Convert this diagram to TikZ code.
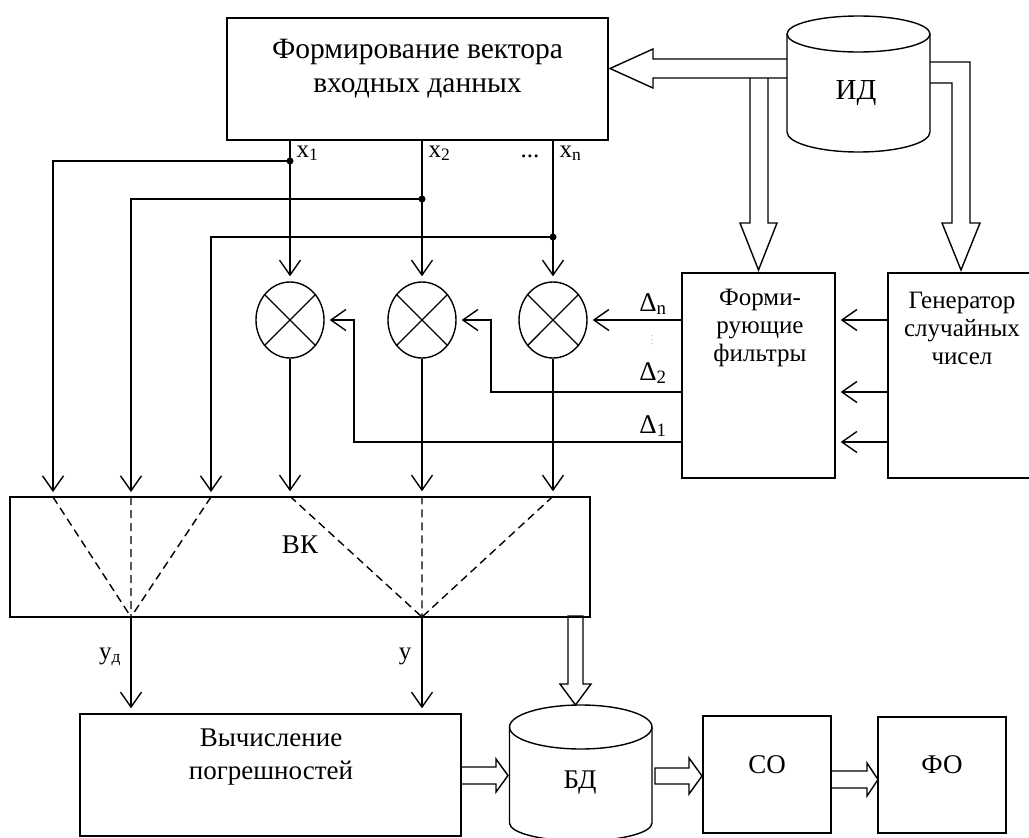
\documentclass[tikz,border=0pt]{standalone}
\usepackage{fontspec}
\setmainfont{Liberation Serif}
\usepackage{tikz}
\usetikzlibrary{calc,shapes,positioning}
\usetikzlibrary{arrows.meta}
\tikzset{>={Straight Barb[width=21pt,length=15pt]}}

\begin{document}
\begin{tikzpicture}[x=1pt,y=-1pt,line width=1.4pt,line join=miter]
          \tikzstyle{blk} = [draw, rectangle, inner sep=0pt]
          \tikzstyle{mul} = [draw, ellipse, inner sep=0pt, minimum width=68pt, minimum height=76pt]
          \tikzstyle{txt} = [align=center, inner sep=0pt, font=\fontsize{27}{33}\selectfont]
          \tikzstyle{btxt} = [align=center, inner sep=0pt, font=\fontsize{29.5}{34}\selectfont]
          \tikzstyle{stxt} = [align=center, inner sep=0pt, font=\fontsize{25}{28}\selectfont]
          \tikzstyle{lbl} = [inner sep=0pt, anchor=base, font=\fontsize{25}{25}\selectfont]
          \tikzstyle{sig} = [->, shorten >=5pt]
          \tikzstyle{route} = [dash pattern=on 8pt off 5pt]
          \useasboundingbox (0,0) rectangle (1029,838);

            % blocks
            \node[blk, minimum width=381pt, minimum height=122pt] (fv) at (417.5,79) {};
            \node[btxt] (fvt) at (417.5,69) {Формирование вектора\\входных данных};
            \node[blk, minimum width=153pt, minimum height=205pt] (ff) at (758.5,375.5) {};
            \node[stxt] (fft) at (760,328) {Форми-\\рующие\\фильтры};
            \node[blk, minimum width=153pt, minimum height=205pt] (gs) at (964.5,375.5) {};
            \node[stxt] (gst) at (962,328) {Генератор\\случайных\\чисел};
            \node[blk, minimum width=580pt, minimum height=120pt] (vk) at (300,557) {};
            \node[txt] (vkt) at (300,545) {ВК};
            \node[blk, minimum width=381pt, minimum height=122pt] (vp) at (270.5,775) {};
            \node[txt] (vpt) at (271,757) {Вычисление\\погрешностей};
            \node[blk, minimum width=128pt, minimum height=117pt] (so) at (767,774.5) {};
            \node[txt] (sot) at (767,765) {СО};
            \node[blk, minimum width=128pt, minimum height=116pt] (fo) at (942,775) {};
            \node[txt] (fot) at (942,765) {ФО};

            % storages
            \draw (787,34) -- (787,132) arc[start angle=180, end angle=360, x radius=71.5pt, y radius=20pt] -- (930,34);
            \draw (858.5,34) ellipse [x radius=71.5pt, y radius=18pt];
            \node[txt, font=\fontsize{29}{33}\selectfont] (id) at (856,93) {ИД};
            \draw (509.5,727) -- (509.5,823) arc[start angle=180, end angle=360, x radius=71.25pt, y radius=18pt] -- (652,727);
            \draw (580.75,727) ellipse [x radius=71.25pt, y radius=22pt];
            \node[txt] (bd) at (580,783) {БД};

            % multipliers
            \node[mul] (m1) at (290,320) {};
            \node[mul] (m2) at (422,320) {};
            \node[mul] (m3) at (553,320) {};
            \draw (m1.45) -- (m1.225) (m1.135) -- (m1.-45);
            \draw (m2.45) -- (m2.225) (m2.135) -- (m2.-45);
            \draw (m3.45) -- (m3.225) (m3.135) -- (m3.-45);

            \coordinate (j1) at (290,161);
            \coordinate (j2) at (422,199);
            \coordinate (j3) at (553,237);
            \coordinate (i1) at (53,497);
            \coordinate (i2) at (131,497);
            \coordinate (i3) at (211,497);
            \coordinate (o1) at (131,617);
            \coordinate (o2) at (422,617);
            \coordinate (c2) at (491,392);
            \coordinate (c1) at (354,442);

            \draw[sig] (fv.south -| m1) -- (m1.north);
            \draw[sig] (fv.south -| m2) -- (m2.north);
            \draw[sig] (fv.south -| m3) -- (m3.north);
            \fill (j1) circle (3.5pt);
            \fill (j2) circle (3.5pt);
            \fill (j3) circle (3.5pt);
            \draw[sig] (j1) -| (i1);
            \draw[sig] (j2) -| (i2);
            \draw[sig] (j3) -| (i3);

            \node[lbl, anchor=base west] (x1) at (296,157) {x\textsubscript{1}};
            \node[lbl, anchor=base west] (x2) at (428,157) {x\textsubscript{2}};
            \node[lbl] (xd) at (530,157) {...};
            \node[lbl, anchor=base west] (xn) at (559,157) {x\textsubscript{n}};

            \draw[sig] (ff.west |- m3) -- (m3.east);
            \draw[sig] (ff.west |- c2) -- (c2) |- (m2.east);
            \draw[sig] (ff.west |- c1) -- (c1) |- (m1.east);
            \node[lbl, font=\fontsize{27}{27}\selectfont] (dn) at (653,311) {Δ\textsubscript{n}};
            \node[lbl, font=\fontsize{27}{27}\selectfont] (d2) at (653,380) {Δ\textsubscript{2}};
            \node[lbl, font=\fontsize{27}{27}\selectfont] (d1) at (653,433) {Δ\textsubscript{1}};
            \node[inner sep=0pt, text=gray, font=\fontsize{8}{8}\selectfont] (dv) at (652,337) {\vdots};

            \draw[sig] (gs.west |- m3) -- (ff.east |- m3);
            \draw[sig] (gs.west |- c2) -- (ff.east |- c2);
            \draw[sig] (gs.west |- c1) -- (ff.east |- c1);

            \draw[sig] (m1.south) -- (m1.south |- vk.north);
            \draw[sig] (m2.south) -- (m2.south |- vk.north);
            \draw[sig] (m3.south) -- (m3.south |- vk.north);

            \draw[route] (i1) -- (o1) (i2) -- (o1) (i3) -- (o1);
            \draw[route] (m1 |- vk.north) -- (o2) (m2 |- vk.north) -- (o2) (m3 |- vk.north) -- (o2);

            \draw[sig] (o1) -- (o1 |- vp.north);
            \draw[sig] (o2) -- (o2 |- vp.north);
            \node[lbl] (yd) at (110,659) {y\textsubscript{д}};
            \node[lbl] (yy) at (405,659) {y};

            % wide arrows
            \draw (787,59) -- (653,59) -- (653,49) -- (610,68.5) -- (653,88) -- (653,78) -- (787,78);
            \draw (750,78) -- (750,223) -- (740,223) -- (758.5,270) -- (777,223) -- (768,223) -- (768,78);
            \draw (930,62) -- (970,62) -- (970,223) -- (980,223) -- (961,270) -- (942,223) -- (952,223) -- (952,83) -- (930,83);
            \draw (568,616) -- (568,684) -- (560,684) -- (575.5,705) -- (591,684) -- (583,684) -- (583,616) -- cycle;
            \draw (461,767) -- (496,767) -- (496,759) -- (508,775.5) -- (496,792) -- (496,784) -- (461,784);
            \draw (655,768) -- (689,768) -- (689,758) -- (702,776) -- (689,794) -- (689,784) -- (655,784) -- cycle;
            \draw (831,771) -- (867,771) -- (867,763) -- (878,779.5) -- (867,796) -- (867,788) -- (831,788);
\end{tikzpicture}
\end{document}
